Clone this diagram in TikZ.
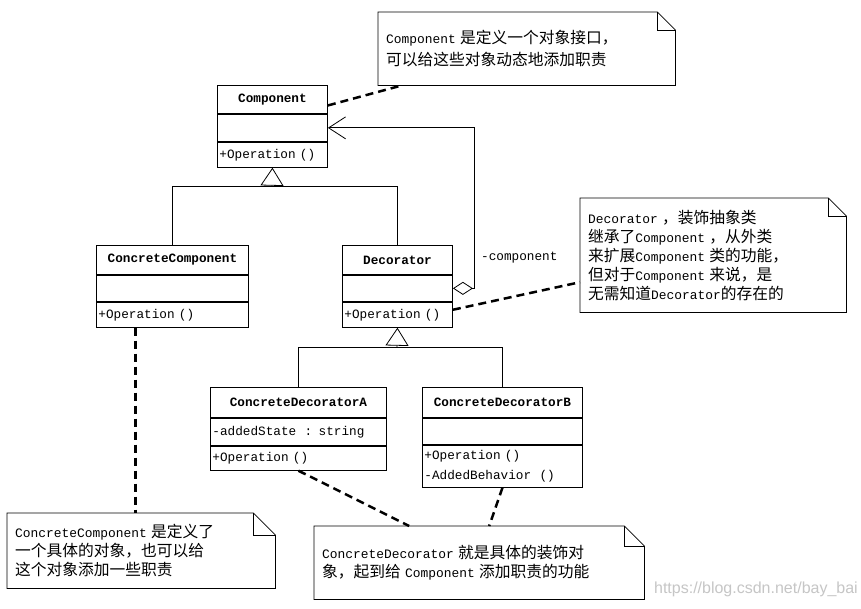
\documentclass[tikz,border=0pt]{standalone}
\usepackage{fontspec}
\setmainfont{Liberation Mono}
\newfontfamily\cjkfam[Scale=1.22]{Noto Sans CJK SC}
\newcommand\zh[1]{{\cjkfam #1}}
\newfontfamily\wmfont{Liberation Sans}
\usetikzlibrary{arrows.meta}
\newcommand\clsfont{\fontsize{12.7}{20}\selectfont}
\newcommand\notefont{\fontsize{12.9}{19}\selectfont}
\tikzset{
  cls/.style={draw, line width=0.9pt, anchor=north west, inner sep=0pt, font=\clsfont},
  hdr/.style={cls, font=\clsfont\bfseries},
  cpt/.style={cls, inner xsep=2pt, align=left, text width=#1},
  conn/.style={line width=0.8pt},
  gen/.style={conn, -{Triangle[open, length=18pt, width=23pt]}},
  agg/.style={conn, {Diamond[open, length=20pt, width=13pt]}-{Straight Barb[length=17pt, width=22pt]}},
  notelink/.style={line width=2.5pt, dash pattern=on 8pt off 5pt},
  note/.style={anchor=north west, inner xsep=8pt, inner ysep=0pt, align=left, font=\notefont},
  noteline/.style={line width=0.8pt}
}
\begin{document}
\begin{tikzpicture}[x=1pt,y=-1pt]
\fill[white] (0,0) rectangle (861,608);
\useasboundingbox (0,0) rectangle (861,608);

% Component
\node[hdr, minimum width=110, minimum height=28] (comp) at (217,85) {Component};
\node[cpt=106, minimum height=27] (comp-a) at (comp.south west) {};
\node[cpt=106, minimum height=25] (comp-o) at (comp-a.south west) {+Operation ()};

% ConcreteComponent
\node[hdr, minimum width=152, minimum height=29] (ccomp) at (96,245) {ConcreteComponent};
\node[cpt=148, minimum height=26] (ccomp-a) at (ccomp.south west) {};
\node[cpt=148, minimum height=25] (ccomp-o) at (ccomp-a.south west) {+Operation ()};

% Decorator
\node[hdr, minimum width=110, minimum height=29] (dec) at (342,245) {Decorator};
\node[cpt=106, minimum height=26] (dec-a) at (dec.south west) {};
\node[cpt=106, minimum height=25] (dec-o) at (dec-a.south west) {+Operation ()};

% ConcreteDecoratorA
\node[hdr, minimum width=176, minimum height=30] (cda) at (210,387) {ConcreteDecoratorA};
\node[cpt=172, minimum height=27] (cda-a) at (cda.south west) {-addedState \ : string};
\node[cpt=172, minimum height=24] (cda-o) at (cda-a.south west) {+Operation ()};

% ConcreteDecoratorB
\node[hdr, minimum width=160, minimum height=30] (cdb) at (422,387) {ConcreteDecoratorB};
\node[cpt=156, minimum height=26] (cdb-a) at (cdb.south west) {};
\node[cpt=156, minimum height=42] (cdb-o) at (cdb-a.south west) {+Operation ()\\-AddedBehavior \ ()};

% generalization Component
\coordinate (j1) at (272,186);
\draw[conn] (ccomp.north) -- (ccomp.north |- j1) -- (dec.north |- j1) -- (dec.north);
\draw[gen] (j1) -- (comp-o.south);

% generalization Decorator
\coordinate (j2) at (397,347);
\draw[conn] (cda.north) -- (cda.north |- j2) -- (cdb.north |- j2) -- (cdb.north);
\draw[gen] (j2) -- (dec-o.south);

% aggregation
\draw[agg] (dec-a.east) -- ++(21,0) |- (comp-a.east);
\node[anchor=west, font=\clsfont, inner sep=0pt] (rolelbl) at (481,258) {-component};

% notes
\node[note, minimum width=297, minimum height=73, text width=281, font=\fontsize{12.9}{22}\selectfont] (n1) at (378,12)
  {Component \zh{是定义一个对象接口，}\\\zh{可以给这些对象动态地添加职责}};
\node[note, minimum width=266, minimum height=114, text width=250] (n2) at (580,198)
  {Decorator \zh{，装饰抽象类}\\\zh{继承了}Component \zh{，从外类}\\\zh{来扩展}Component \zh{类的功能，}\\\zh{但对于}Component \zh{来说，是}\\\zh{无需知道}Decorator\zh{的存在的}};
\node[note, minimum width=268, minimum height=75, text width=252] (n3) at (7,513)
  {ConcreteComponent \zh{是定义了}\\\zh{一个具体的对象，也可以给}\\\zh{这个对象添加一些职责}};
\node[note, minimum width=330, minimum height=73, text width=314] (n4) at (314,526)
  {ConcreteDecorator \zh{就是具体的装饰对}\\\zh{象，起到给} Component \zh{添加职责的功能}};

\foreach \n/\f in {n1/18, n2/18, n3/22, n4/20}{
  \draw[noteline] (\n.south west) -- (\n.north west) -- ([xshift=-\f pt]\n.north east)
    -- ([yshift=-\f pt]\n.north east) -- (\n.south east) -- cycle;
  \draw[noteline] ([xshift=-\f pt]\n.north east) |- ([yshift=-\f pt]\n.north east);
}

% note links
\draw[notelink] ([yshift=-6pt]comp.east) -- ([xshift=24pt]n1.south west);
\draw[notelink] ([yshift=5pt]dec-o.east) -- ([yshift=-27pt]n2.west);
\coordinate (c3) at ([xshift=-37pt]ccomp-o.south);
\draw[notelink] (c3) -- (c3 |- n3.north);
\draw[notelink] (cda-o.south) -- ([xshift=-70pt]n4.north);
\draw[notelink] (cdb-o.south) -- ([xshift=10pt]n4.north);

% watermark
\node[anchor=east, inner sep=0pt, font=\wmfont\fontsize{16}{16}\selectfont, text=gray!45] (wm) at (858,589) {https://blog.csdn.net/bay\_bai};
\end{tikzpicture}
\end{document}
